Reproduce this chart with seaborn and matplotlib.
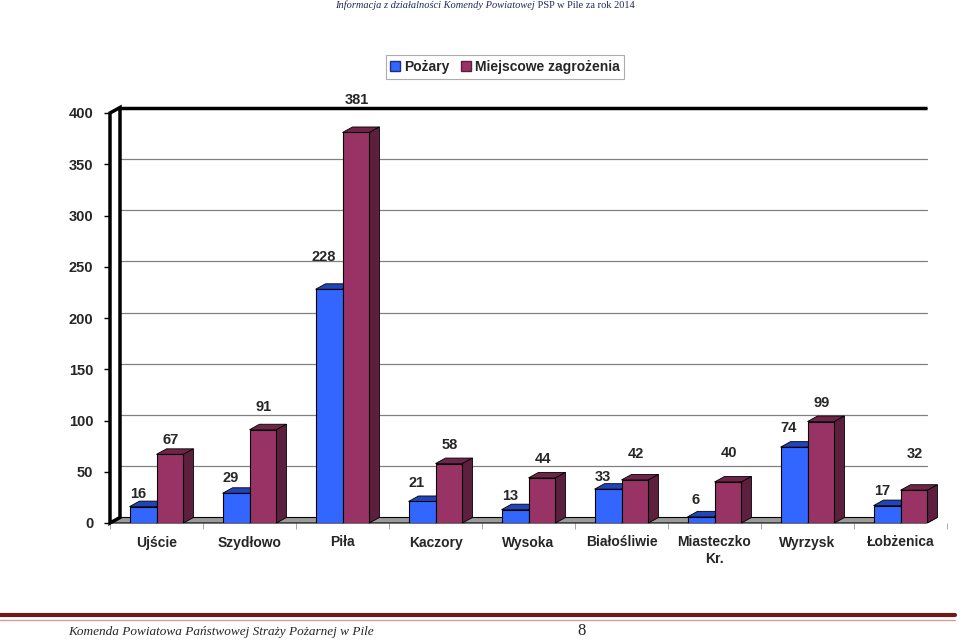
import matplotlib
matplotlib.use("Agg")
import matplotlib.pyplot as plt
import numpy as np
import pandas as pd
import seaborn as sns
from matplotlib.patches import Polygon, Patch

# ==============================
# Dane
# ==============================

gminy = ['Ujście', 'Szydłowo', 'Piła', 'Kaczory', 'Wysoka', 'Białośliwie',
         'Miasteczko\nKr.', 'Wyrzysk', 'Łobżenica']
pozary = [16, 29, 228, 21, 13, 33, 6, 74, 17]
miejscowe = [67, 91, 381, 58, 44, 42, 40, 99, 32]
serie = ['Pożary', 'Miejscowe zagrożenia']

# odstep etykiet nad slupkami (piksele) - Excel ustawil je nierowno
lift_pozary = [13, 15, 32, 18, 14, 12, 17, 19, 15]
lift_miejscowe = [14, 23, 32, 19, 19, 26, 29, 19, 36]

kolory = {'Pożary': ('#3366FF', '#2244BB', '#1A2F80'),
          'Miejscowe zagrożenia': ('#993366', '#6E2549', '#5C1F3E')}

df = pd.DataFrame({
    'gmina': gminy * 2,
    'seria': [serie[0]] * len(gminy) + [serie[1]] * len(gminy),
    'wartosc': pozary + miejscowe,
})

# ==============================
# Wykres
# ==============================

sns.set_style("white")
plt.rcParams['font.family'] = ['Liberation Sans', 'DejaVu Sans']

fig = plt.figure(figsize=(9.6, 6.41), dpi=100)
ax = fig.add_axes([110 / 960, 118 / 641, 837 / 960, 410 / 641])

sns.barplot(data=df, x='gmina', y='wartosc', hue='seria', order=gminy,
            hue_order=serie, palette={s: kolory[s][0] for s in serie},
            saturation=1, width=0.58, linewidth=0.8, edgecolor='black',
            legend=False, ax=ax, zorder=3)

ax.set_xlim(-0.5, 8.5)
ax.set_ylim(0, 400)

# glebokosc "3D" w pikselach -> jednostki danych
DX_PX, DY_PX = 10, 5.5
ddx = DX_PX * 9 / 837
ddy = DY_PX * 400 / 410
X_RIGHT = 8.28

for s in ax.spines.values():
    s.set_visible(False)

# siatka na tylnej scianie
for v in range(50, 401, 50):
    ax.plot([-0.5 + ddx, X_RIGHT], [v + ddy, v + ddy], color='#808080',
            lw=0.9, zorder=1, clip_on=False)

# podloga
ax.add_patch(Polygon([(-0.5, 0), (X_RIGHT, 0), (X_RIGHT + ddx, ddy), (-0.5 + ddx, ddy)],
                     closed=True, facecolor='#9A9A9A', edgecolor='black',
                     lw=0.8, zorder=1.5, clip_on=False))

# lewa sciana i gorna krawedz
ax.add_patch(Polygon([(-0.5, 0), (-0.5, 400), (-0.5 + ddx, 400 + ddy), (-0.5 + ddx, ddy)],
                     closed=True, facecolor='white', edgecolor='black',
                     lw=2.5, zorder=2, clip_on=False))
ax.plot([-0.5 + ddx, X_RIGHT], [400 + ddy, 400 + ddy], color='black',
        lw=2.5, zorder=2, clip_on=False, solid_capstyle='butt')

# sciany boczne i gorne slupkow
for i, (cont, s) in enumerate(zip(ax.containers, serie)):
    _, top_c, side_c = kolory[s]
    base_z = 3 + i
    for bar in cont:
        bar.set_zorder(base_z)
        x0 = bar.get_x()
        x1 = x0 + bar.get_width()
        h = bar.get_height()
        ax.add_patch(Polygon([(x0, h), (x1, h), (x1 + ddx, h + ddy), (x0 + ddx, h + ddy)],
                             closed=True, facecolor=top_c, edgecolor='black',
                             lw=0.6, zorder=base_z - 0.1, clip_on=False))
        ax.add_patch(Polygon([(x1, 0), (x1, h), (x1 + ddx, h + ddy), (x1 + ddx, ddy)],
                             closed=True, facecolor=side_c, edgecolor='black',
                             lw=0.6, zorder=base_z - 0.1, clip_on=False))

# etykiety wartosci
for cont, lifts, dx in zip(ax.containers, [lift_pozary, lift_miejscowe], [-5, 1]):
    for bar, lift in zip(cont, lifts):
        ax.annotate(f"{bar.get_height():.0f}",
                    xy=(bar.get_x() + bar.get_width() / 2, bar.get_height()),
                    xytext=(dx, lift), textcoords='offset pixels',
                    ha='center', va='center', fontsize=10.5, fontweight='bold',
                    zorder=10, annotation_clip=False)

ax.set_yticks(range(0, 401, 50))
ax.set_xlabel('')
ax.set_ylabel('')
ax.tick_params(axis='y', labelsize=10.5, length=4, width=1, pad=8, left=True,
               color='black')
ax.tick_params(axis='x', labelsize=10, length=0, pad=9)
for lab in ax.get_xticklabels() + ax.get_yticklabels():
    lab.set_fontweight('bold')
ax.set_xticks(np.arange(-0.5, 9, 1), minor=True)
ax.tick_params(axis='x', which='minor', length=4, color='#999999', bottom=True)

# legenda
uchwyty = [Patch(facecolor=kolory[s][0], edgecolor=kolory[s][2], label=s) for s in serie]
leg = fig.legend(handles=uchwyty, loc='center', bbox_to_anchor=(505 / 960, 1 - 67 / 641),
                 ncol=2, frameon=True, fancybox=False, handlelength=0.7,
                 handleheight=0.7, handletextpad=0.3, columnspacing=0.8,
                 borderpad=0.35, prop={'weight': 'bold', 'size': 10})
leg.get_frame().set_edgecolor('#999999')
leg.get_frame().set_linewidth(0.8)

# naglowek strony
t1 = fig.text(335 / 960, 1 - 5 / 641, 'Informacja z działalności Komendy Powiatowej',
              fontsize=7.5, style='italic', family=['Liberation Serif', 'DejaVu Serif'],
              color='#1F2A5C', ha='left', va='center')
ax.annotate(' PSP w Pile za rok 2014', xy=(1, 0.5), xycoords=t1, va='center',
            ha='left', fontsize=7.5, family=['Liberation Serif', 'DejaVu Serif'],
            color='#1F2A5C', annotation_clip=False)

# stopka
fig.add_artist(plt.Line2D([0, 955 / 960], [1 - 615 / 641] * 2, color='#6E1A1A',
                          lw=3, transform=fig.transFigure))
fig.add_artist(plt.Line2D([0, 955 / 960], [1 - 619.5 / 641] * 2, color='#D99A9A',
                          lw=1, transform=fig.transFigure))
fig.text(68 / 960, 1 - 632 / 641, 'Komenda Powiatowa Państwowej Straży Pożarnej w Pile',
         fontsize=9.5, style='italic', family=['Liberation Serif', 'DejaVu Serif'],
         ha='left', va='center')
fig.text(582 / 960, 1 - 631 / 641, '8', fontsize=12,
         family=['Liberation Serif', 'DejaVu Serif'], ha='center', va='center')

fig.savefig('out.png', dpi=100)
